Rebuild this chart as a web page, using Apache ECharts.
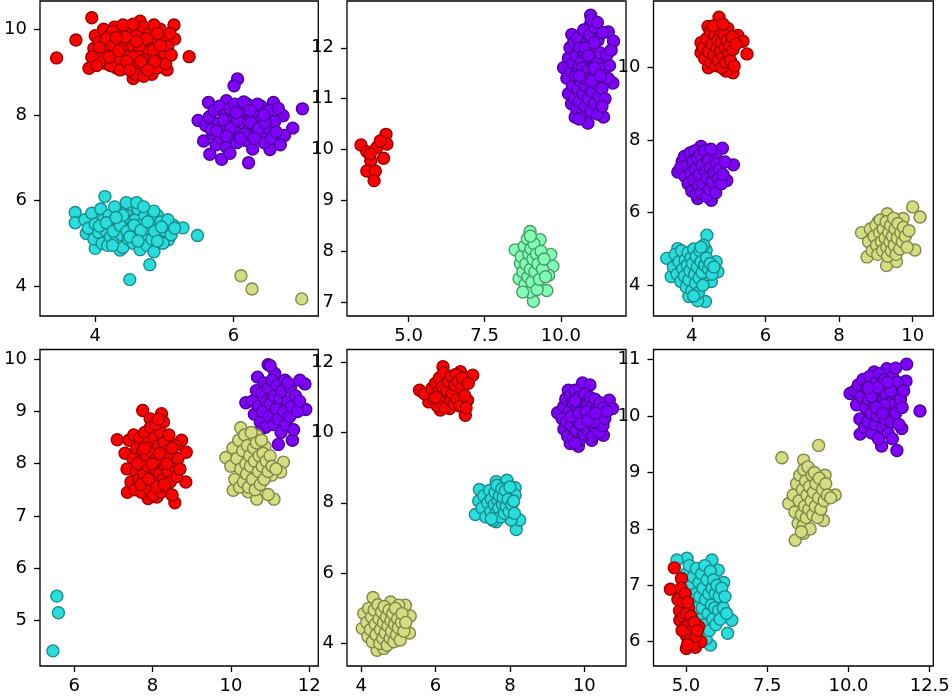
<!DOCTYPE html>
<html>
<head>
<meta charset="utf-8">
<script src="https://cdn.jsdelivr.net/npm/echarts@6/dist/echarts.min.js"></script>
<style>
html,body{margin:0;padding:0;background:#fff;}
#chart{width:952px;height:700px;}
</style>
</head>
<body>
<div id="chart"></div>
<script>
// ---- Panel 1 (top-left) ----
const p1Red = [[3.44,9.33],[3.72,9.75],[3.95,10.27],[5.14,10.10],[5.36,9.36],[3.91,9.09],[4.55,8.85],[4.82,8.95],[5.04,9.05],[4.65,10.19],[5.15,9.77],[4.94,10.0],
[3.98,9.55],[4.0,9.85],[4.05,9.7],[4.08,9.4],[4.12,10.0],[4.15,9.2],[4.18,9.6],[4.2,9.85],[4.25,9.45],[4.28,10.05],[4.3,9.1],[4.32,9.7],[4.35,9.3],[4.38,9.9],[4.4,9.55],[4.42,10.08],[4.45,9.15],[4.48,9.75],[4.5,9.4],[4.52,9.95],[4.55,9.6],[4.58,9.2],[4.6,9.85],[4.62,9.45],[4.65,9.05],[4.68,9.7],[4.7,10.05],[4.72,9.3],[4.75,9.55],[4.78,9.9],[4.8,9.15],[4.82,9.65],[4.85,9.4],[4.88,9.8],[4.9,9.1],[4.92,9.55],[4.95,9.3],[4.98,9.75],[5.0,9.45],[5.02,9.2],[5.05,9.6],[5.08,9.9],[4.1,9.25],[4.22,9.15],[4.36,9.05],[4.58,8.95],[4.4,10.1],[4.55,10.12],[4.85,10.1],[4.25,9.95],[3.95,9.35],[4.02,9.15],[4.7,8.9],
[4.06,9.58],[4.16,9.78],[4.26,9.62],[4.34,9.5],[4.44,9.82],[4.54,9.35],[4.64,9.62],[4.74,9.78],[4.84,9.52],[4.94,9.62],[4.46,9.25],[4.66,9.25],[4.86,9.25],[4.3,9.8],[4.6,9.72],[4.9,9.9],[5.1,9.4],[4.2,9.35],[4.76,9.05],[4.5,9.05]];
const p1Purple = [[6.06,8.84],[6.01,8.68],[7.0,8.14],[6.86,7.69],[6.74,7.52],[6.53,7.19],[6.22,6.88],[5.83,6.96],[5.66,7.08],[5.57,7.39],[5.49,7.87],[5.64,8.29],[6.58,8.29],[6.72,7.98],[5.9,8.33],
[5.6,7.75],[5.65,7.95],[5.7,7.55],[5.72,8.1],[5.75,7.3],[5.78,7.8],[5.8,8.2],[5.82,7.45],[5.85,7.65],[5.88,8.0],[5.9,7.25],[5.92,7.85],[5.95,8.15],[5.98,7.55],[6.0,7.75],[6.02,8.25],[6.05,7.35],[6.08,7.95],[6.1,7.6],[6.12,8.1],[6.15,7.8],[6.18,7.4],[6.2,8.25],[6.22,7.65],[6.25,7.95],[6.28,7.2],[6.3,7.75],[6.32,8.05],[6.35,7.5],[6.38,7.85],[6.4,8.2],[6.42,7.6],[6.45,7.35],[6.48,7.95],[6.5,7.7],[6.52,8.1],[6.55,7.45],[6.6,7.85],[6.62,7.6],[6.65,8.15],[6.68,7.3],[5.68,7.65],[5.95,7.1],[6.15,8.3],[6.35,8.25],
[5.86,7.88],[5.96,7.68],[6.06,7.88],[6.16,7.55],[6.26,7.82],[6.36,7.68],[6.46,7.82],[5.76,7.62],[6.04,8.05],[6.24,8.1],[6.44,8.0],[6.1,7.45],[5.9,7.5],[6.3,7.45]];
const p1Cyan = [[4.50,4.15],[4.79,4.50],[5.48,5.18],[5.27,5.36],[4.14,6.09],[3.71,5.72],[3.71,5.48],[3.87,5.23],[4.0,4.88],[4.36,4.84],[5.13,5.42],[5.06,5.08],
[3.85,5.55],[3.9,5.35],[3.95,5.7],[3.98,5.1],[4.0,5.45],[4.05,5.25],[4.08,5.8],[4.1,5.0],[4.12,5.55],[4.15,5.3],[4.18,4.95],[4.2,5.65],[4.22,5.15],[4.25,5.45],[4.28,5.85],[4.3,5.05],[4.32,5.35],[4.35,5.6],[4.38,5.2],[4.4,4.9],[4.42,5.5],[4.45,5.75],[4.48,5.1],[4.5,5.35],[4.52,5.9],[4.55,5.0],[4.58,5.55],[4.6,5.25],[4.62,5.8],[4.65,4.85],[4.68,5.45],[4.7,5.15],[4.72,5.65],[4.75,4.95],[4.78,5.35],[4.8,5.55],[4.82,5.1],[4.85,4.8],[4.88,5.4],[4.9,5.65],[4.92,5.2],[4.95,5.5],[4.98,5.0],[5.0,5.3],[5.05,5.55],[5.1,5.2],[5.15,5.35],[4.45,5.95],[4.6,5.95],[4.25,4.95],[4.85,5.75],
[4.06,5.4],[4.16,5.48],[4.26,5.28],[4.36,5.42],[4.46,5.28],[4.56,5.42],[4.66,5.3],[4.76,5.5],[4.86,5.28],[4.96,5.38],[4.4,5.65],[4.7,5.85],[4.5,5.15],[4.9,5.05],[4.3,5.6],[4.62,5.05]];
const p1Yellow = [[6.11,4.24],[6.27,3.93],[6.99,3.70]];

// ---- Panel 2 (top-middle) ----
const p2Red = [[3.44,10.09],[3.63,9.96],[3.96,10.04],[4.26,10.30],[4.29,10.11],[4.18,9.83],[3.76,9.78],[3.63,9.58],[3.91,9.58],[3.87,9.39],[4.07,10.17],[3.74,9.91]];
const p2Purple = [[10.98,12.64],[10.96,12.44],[10.36,12.26],[10.09,11.61],[11.40,10.64],[10.89,10.52],[10.47,10.64],[11.71,11.31],[11.56,12.31],[11.73,12.13],
[10.2,11.4],[10.25,11.8],[10.25,11.1],[10.3,12.0],[10.32,11.55],[10.35,10.9],[10.38,11.25],[10.4,11.7],[10.42,12.1],[10.45,11.0],[10.48,11.45],[10.5,11.85],[10.52,10.8],[10.55,12.2],[10.55,11.2],[10.58,11.6],[10.6,10.95],[10.62,12.0],[10.65,11.35],[10.68,11.75],[10.7,10.7],[10.72,11.1],[10.75,12.35],[10.75,11.5],[10.78,11.9],[10.8,10.85],[10.82,11.25],[10.85,12.1],[10.88,11.65],[10.9,11.0],[10.92,11.4],[10.95,12.25],[10.98,10.75],[11.0,11.8],[11.02,11.15],[11.05,12.0],[11.08,11.5],[11.1,10.9],[11.12,12.4],[11.15,11.3],[11.18,11.7],[11.2,10.7],[11.22,12.15],[11.25,11.05],[11.28,11.55],[11.3,11.9],[11.35,11.2],[11.38,12.3],[11.4,11.6],[11.45,11.0],[11.5,11.85],[11.55,11.4],[11.6,11.65],[11.65,11.95],[11.35,10.85],[10.6,10.6],[11.0,12.55],[11.2,12.5],
[10.7,11.6],[10.9,11.55],[11.1,11.6],[10.8,11.4],[11.0,11.35],[10.6,11.45],[10.8,12.0],[11.1,12.1],[10.9,11.85],[11.3,11.45]];
const p2Green = [[8.50,8.03],[8.99,8.39],[9.10,7.02],[9.54,7.23],[9.67,7.94],[9.74,7.71],[9.60,7.53],[8.63,7.46],[9.32,8.23],[9.16,7.76],[9.16,7.54],[9.10,7.33],[8.67,7.76],
[8.7,7.9],[8.75,7.6],[8.8,8.1],[8.82,7.35],[8.85,7.75],[8.9,8.25],[8.92,7.5],[8.95,7.95],[8.98,7.2],[9.0,7.65],[9.02,8.05],[9.05,7.4],[9.08,7.85],[9.12,8.15],[9.15,7.6],[9.2,7.95],[9.22,7.25],[9.25,7.75],[9.3,7.45],[9.35,8.0],[9.4,7.65],[9.45,7.85],[9.5,7.5],[8.75,7.2],[9.0,8.3]];

// ---- Panel 3 (top-right) ----
const p3Red = [[4.74,11.39],[5.50,10.38],[5.12,9.86],[4.93,9.91],[4.45,10.0],[4.25,10.69],[5.25,10.89],[4.44,11.14],[4.98,11.08],[5.39,10.73],[4.25,10.41],
[4.3,10.55],[4.35,10.25],[4.4,10.8],[4.45,10.45],[4.5,11.0],[4.52,10.15],[4.55,10.65],[4.6,10.35],[4.62,10.9],[4.65,10.05],[4.68,10.55],[4.7,10.75],[4.72,10.2],[4.75,11.05],[4.78,10.45],[4.8,10.7],[4.82,10.0],[4.85,10.3],[4.88,10.9],[4.9,10.55],[4.92,10.15],[4.95,10.75],[5.0,10.4],[5.02,10.6],[5.05,10.2],[5.1,10.85],[5.12,10.5],[5.15,10.05],[5.2,10.65],[4.58,11.15],[4.85,11.2]];
const p3Purple = [[4.83,7.78],[5.13,7.32],[4.95,6.89],[4.53,6.34],[4.16,6.39],[3.62,7.12],[3.74,7.41],[4.25,7.83],[4.64,7.59],[4.39,7.48],[4.32,6.91],
[3.7,7.25],[3.8,7.55],[3.82,7.0],[3.88,7.3],[3.9,6.8],[3.95,7.65],[3.98,7.1],[4.0,6.6],[4.02,7.4],[4.05,6.9],[4.08,7.7],[4.1,7.2],[4.12,6.5],[4.15,7.5],[4.18,6.75],[4.2,7.05],[4.22,7.6],[4.25,6.55],[4.28,7.3],[4.3,6.8],[4.35,7.7],[4.38,7.15],[4.4,6.45],[4.42,6.95],[4.45,7.45],[4.48,6.65],[4.5,7.25],[4.52,7.75],[4.55,6.85],[4.6,7.1],[4.65,6.55],[4.68,7.35],[4.72,6.95],[4.75,7.2],[4.8,6.8],[4.85,7.05],[4.9,7.4]];
const p3Cyan = [[3.32,4.74],[4.41,5.38],[4.37,3.55],[4.16,3.57],[3.92,3.69],[4.71,4.37],[4.66,4.65],[3.44,4.24],[3.76,4.79],[3.62,5.01],[4.39,4.97],[4.53,4.10],[4.39,4.28],
[3.5,4.5],[3.55,4.85],[3.6,4.3],[3.65,4.65],[3.7,4.1],[3.72,4.95],[3.75,4.45],[3.8,4.25],[3.82,4.7],[3.85,3.95],[3.88,4.55],[3.9,4.9],[3.92,4.15],[3.95,4.4],[3.98,4.75],[4.0,3.85],[4.02,4.6],[4.05,5.0],[4.08,4.3],[4.1,4.05],[4.12,4.8],[4.15,4.5],[4.18,3.8],[4.2,4.2],[4.22,4.95],[4.25,4.65],[4.28,4.35],[4.3,4.0],[4.32,5.1],[4.35,4.55],[4.4,4.75],[4.45,4.45],[4.5,4.6],[4.55,4.3],[4.6,4.5],[4.25,5.05],[4.05,3.7]];
const p3Yellow = [[10.0,6.16],[10.2,5.88],[10.06,4.97],[9.29,4.54],[8.76,4.78],[8.61,5.45],[9.06,5.75],[9.31,5.97],[9.74,5.84],[9.56,4.65],
[8.8,5.2],[8.85,5.55],[8.9,4.95],[8.95,5.35],[9.0,5.65],[9.02,5.1],[9.05,4.85],[9.1,5.45],[9.12,5.8],[9.15,5.2],[9.18,4.95],[9.2,5.55],[9.25,5.3],[9.28,5.75],[9.3,5.05],[9.32,4.8],[9.35,5.45],[9.38,5.2],[9.4,5.65],[9.42,4.95],[9.45,5.35],[9.48,5.85],[9.5,5.1],[9.52,5.55],[9.55,4.85],[9.58,5.3],[9.6,5.7],[9.65,5.0],[9.68,5.45],[9.72,5.2],[9.75,5.6],[9.8,5.35],[9.85,5.05],[9.9,5.5]];

// ---- Panel 4 (bottom-left) ----
const p4Red = [[7.75,9.02],[8.23,8.96],[8.57,7.25],[8.85,7.65],[8.86,8.22],[7.10,8.46],[7.36,7.45],[7.89,7.33],[8.28,8.80],[7.94,8.86],[8.74,8.45],[8.11,7.36],
[7.3,8.2],[7.35,7.9],[7.4,8.45],[7.45,7.65],[7.5,8.1],[7.52,8.55],[7.55,7.5],[7.58,7.85],[7.6,8.3],[7.65,7.7],[7.68,8.5],[7.7,8.05],[7.72,7.45],[7.75,8.25],[7.78,7.8],[7.8,8.6],[7.82,7.6],[7.85,8.15],[7.88,7.95],[7.9,8.4],[7.92,7.5],[7.95,8.7],[7.98,7.75],[8.0,8.2],[8.02,7.4],[8.05,8.5],[8.08,7.9],[8.1,8.1],[8.12,7.6],[8.15,8.35],[8.18,7.8],[8.2,8.6],[8.22,7.45],[8.25,8.05],[8.28,7.7],[8.3,8.4],[8.32,7.95],[8.35,7.55],[8.38,8.25],[8.4,7.85],[8.42,8.55],[8.45,7.65],[8.48,8.15],[8.5,7.4],[8.55,7.95],[8.58,8.35],[8.62,7.75],[8.65,8.1],[8.7,7.9],[8.08,8.75],[8.15,8.85],
[7.62,8.0],[7.8,8.3],[7.98,8.0],[8.18,8.2],[8.36,8.0],[7.7,7.6],[7.9,7.7],[8.1,7.55],[8.3,7.6],[8.5,8.3]];
const p4Purple = [[10.95,9.90],[10.68,9.66],[10.38,9.17],[11.91,9.04],[11.89,9.53],[11.57,8.45],[11.21,8.37],[11.76,9.60],[11.12,9.73],[11.0,9.88],
[10.55,9.2],[10.6,8.95],[10.65,9.4],[10.7,9.1],[10.75,8.8],[10.78,9.35],[10.8,9.0],[10.85,9.55],[10.88,8.7],[10.9,9.2],[10.95,9.45],[10.98,8.9],[11.0,9.15],[11.05,9.6],[11.08,8.75],[11.1,9.3],[11.15,9.05],[11.18,9.5],[11.2,8.85],[11.25,9.25],[11.28,8.6],[11.3,9.4],[11.35,9.0],[11.38,9.6],[11.4,8.75],[11.45,9.2],[11.5,8.9],[11.52,9.45],[11.55,9.1],[11.6,8.65],[11.65,9.3],[11.7,9.0],[11.75,9.2],[11.45,9.55],[10.7,8.6]];
const p4Yellow = [[10.25,8.69],[9.87,8.12],[10.06,7.49],[10.44,7.46],[10.66,7.32],[11.10,7.32],[10.95,7.41],[11.34,8.03],[11.27,7.84],[10.66,8.54],[10.87,8.33],[11.04,7.78],[10.61,7.68],
[10.0,7.95],[10.05,8.3],[10.1,7.7],[10.15,8.1],[10.2,8.45],[10.22,7.55],[10.25,7.9],[10.3,8.25],[10.32,7.65],[10.35,8.55],[10.38,8.0],[10.4,7.8],[10.42,8.35],[10.45,7.55],[10.48,8.15],[10.5,7.95],[10.52,8.6],[10.55,7.7],[10.58,8.3],[10.6,8.05],[10.62,7.5],[10.65,8.4],[10.7,7.85],[10.72,8.15],[10.75,7.6],[10.78,8.45],[10.8,7.95],[10.82,8.2],[10.85,7.7],[10.9,8.05],[10.95,7.85],[11.0,8.15],[11.05,7.95],[11.15,7.9]];
const p4Cyan = [[5.56,5.46],[5.60,5.14],[5.46,4.41]];

// ---- Panel 5 (bottom-middle) ----
const p5Red = [[6.20,11.87],[5.57,11.20],[6.80,10.49],[7.0,11.63],[6.13,10.64],[5.82,10.87],[6.86,10.92],[6.38,10.68],[6.26,11.01],[6.62,11.11],[6.67,11.73],[6.31,11.54],
[5.7,11.1],[5.9,11.25],[5.95,10.95],[6.0,11.4],[6.05,10.75],[6.08,11.15],[6.1,11.55],[6.15,10.85],[6.18,11.3],[6.22,11.7],[6.25,10.7],[6.3,11.2],[6.35,11.45],[6.4,10.9],[6.42,11.6],[6.45,11.1],[6.5,10.8],[6.52,11.35],[6.55,11.65],[6.58,10.95],[6.6,11.45],[6.65,10.75],[6.7,11.25],[6.72,11.55],[6.78,11.05],[6.82,10.7],[6.88,11.4],[6.0,11.0]];
const p5Purple = [[9.95,11.41],[9.28,10.56],[9.84,9.61],[9.62,9.69],[10.67,10.92],[10.76,10.68],[10.20,9.78],[10.51,9.92],[9.57,11.20],[10.15,11.35],
[9.4,10.4],[9.45,10.75],[9.45,10.1],[9.5,10.95],[9.52,10.3],[9.55,9.9],[9.6,10.6],[9.62,11.05],[9.65,10.2],[9.68,10.85],[9.7,9.85],[9.72,10.45],[9.75,11.2],[9.78,10.05],[9.8,10.7],[9.82,10.3],[9.85,11.0],[9.88,9.8],[9.9,10.5],[9.92,10.9],[9.95,10.15],[9.98,10.65],[10.0,9.95],[10.02,11.1],[10.05,10.4],[10.08,10.8],[10.1,10.05],[10.12,10.6],[10.15,11.0],[10.18,10.25],[10.2,10.75],[10.22,9.9],[10.25,10.5],[10.28,10.95],[10.3,10.15],[10.35,10.7],[10.38,10.35],[10.4,10.0],[10.42,10.85],[10.45,10.5],[10.5,10.2],[10.52,10.7],[10.55,10.4],[10.6,10.6],[9.75,9.7],
[9.65,10.45],[9.85,10.55],[10.05,10.6],[10.25,10.3],[9.9,10.25],[10.1,10.35],[9.75,10.9],[10.3,10.55]];
const p5Cyan = [[7.18,8.38],[7.63,8.60],[8.17,7.24],[8.26,7.51],[7.07,7.67],[7.16,8.05],[8.14,8.43],[8.14,8.22],[7.92,8.64],[7.63,7.46],[8.03,7.51],
[7.25,7.85],[7.3,8.2],[7.35,7.6],[7.4,8.0],[7.45,8.35],[7.48,7.75],[7.5,8.1],[7.55,7.5],[7.58,7.95],[7.6,8.3],[7.62,7.7],[7.65,8.5],[7.68,8.05],[7.7,7.85],[7.72,8.2],[7.75,7.6],[7.78,8.4],[7.8,7.95],[7.82,8.15],[7.85,7.7],[7.88,8.35],[7.9,7.9],[7.95,8.1],[7.98,7.75],[8.0,8.45],[8.05,7.95],[8.1,8.05],[8.12,7.7],[7.5,7.55]];
const p5Yellow = [[4.32,5.31],[4.43,3.81],[4.61,3.86],[5.30,4.30],[5.32,4.78],[5.19,5.09],[4.03,4.43],[4.07,4.85],[4.79,5.18],[5.01,5.09],
[4.15,4.6],[4.18,4.2],[4.2,5.0],[4.25,4.4],[4.28,4.75],[4.3,4.05],[4.35,4.95],[4.38,4.55],[4.4,4.25],[4.45,5.1],[4.48,4.7],[4.5,4.0],[4.52,4.4],[4.55,4.9],[4.58,4.15],[4.6,4.6],[4.62,5.05],[4.65,4.3],[4.68,4.75],[4.7,3.95],[4.72,4.5],[4.75,4.95],[4.78,4.15],[4.8,4.65],[4.82,4.35],[4.85,4.85],[4.88,4.05],[4.9,4.55],[4.92,5.0],[4.95,4.25],[4.98,4.7],[5.0,4.45],[5.05,4.1],[5.08,4.6],[5.1,4.85],[5.15,4.35],[5.2,4.6]];

// ---- Panel 6 (bottom-right) ----
const p6Red = [[4.64,7.31],[4.52,6.93],[4.86,7.12],[5.01,5.88],[5.29,5.90],[5.46,6.0],[5.39,6.27],[5.08,6.38],[4.83,6.77],[4.81,6.38],[5.08,6.59],[5.18,6.15],
[4.75,6.75],[4.8,6.55],[4.85,6.95],[4.9,6.45],[4.92,6.7],[4.95,6.25],[4.98,6.85],[5.0,6.5],[5.02,6.1],[5.05,6.7],[5.1,6.3],[5.12,6.05],[5.15,6.45],[5.2,6.2],[5.22,5.95],[5.25,6.35],[5.3,6.1],[5.35,6.2],[4.88,6.2],[5.05,5.95]];
const p6Cyan = [[5.03,7.48],[5.80,7.45],[5.75,5.94],[6.28,6.15],[6.41,6.38],[6.16,7.05],[5.34,7.27],[5.99,7.27],[4.72,7.45],
[5.0,7.2],[5.05,6.9],[5.1,7.35],[5.15,7.0],[5.2,6.7],[5.22,7.15],[5.25,6.45],[5.3,6.85],[5.32,7.3],[5.35,6.6],[5.38,6.2],[5.4,7.05],[5.42,6.8],[5.45,6.4],[5.48,7.2],[5.5,6.6],[5.52,6.95],[5.55,6.3],[5.58,7.35],[5.6,6.75],[5.62,6.05],[5.65,7.1],[5.68,6.5],[5.7,6.85],[5.72,6.2],[5.75,7.25],[5.78,6.65],[5.8,6.95],[5.82,6.4],[5.85,7.1],[5.88,6.6],[5.9,6.85],[5.92,6.3],[5.95,7.0],[6.0,6.55],[6.02,6.8],[6.05,6.4],[6.1,6.95],[6.15,6.6],[6.2,6.8],[6.25,6.5]];
const p6Yellow = [[7.95,9.26],[9.08,9.48],[8.36,7.80],[8.62,7.92],[9.59,8.60],[9.28,8.95],[8.62,9.22],[8.16,8.45],[9.23,8.15],
[8.3,8.6],[8.35,8.3],[8.4,8.8],[8.45,8.1],[8.48,8.5],[8.5,8.95],[8.55,8.25],[8.58,8.7],[8.6,8.05],[8.62,9.05],[8.65,8.4],[8.68,8.85],[8.7,8.2],[8.72,8.6],[8.75,9.1],[8.78,8.35],[8.8,8.75],[8.82,8.0],[8.85,8.5],[8.88,8.95],[8.9,8.25],[8.92,8.65],[8.95,9.0],[8.98,8.4],[9.0,8.8],[9.05,8.2],[9.08,8.55],[9.1,8.9],[9.15,8.35],[9.2,8.7],[9.25,8.5],[9.3,8.8],[9.35,8.6],[9.45,8.55],[8.55,7.95]];
const p6Purple = [[11.79,10.92],[12.20,10.09],[11.49,9.39],[11.02,9.47],[10.36,9.68],[10.05,10.40],[10.79,10.78],[11.18,10.84],[11.77,10.62],[11.64,9.78],
[10.2,10.45],[10.25,10.2],[10.3,10.55],[10.35,9.95],[10.4,10.35],[10.45,10.65],[10.5,9.8],[10.52,10.15],[10.55,10.5],[10.6,9.9],[10.62,10.3],[10.65,10.7],[10.7,10.05],[10.72,9.7],[10.75,10.45],[10.8,10.2],[10.82,9.85],[10.85,10.6],[10.88,10.0],[10.9,10.35],[10.92,9.6],[10.95,10.75],[10.98,10.15],[11.0,10.5],[11.05,9.8],[11.08,10.3],[11.1,10.65],[11.12,9.95],[11.15,10.4],[11.2,10.1],[11.22,9.7],[11.25,10.55],[11.3,10.25],[11.32,9.9],[11.35,10.7],[11.4,10.4],[11.45,10.05],[11.5,10.6],[11.55,9.85],[11.6,10.3],[11.65,10.15],[11.7,10.45],[11.35,9.6],[11.45,10.85],
[10.7,10.35],[10.9,10.5],[11.1,10.2],[11.3,10.45],[10.85,10.15],[11.05,10.05],[10.6,10.5],[11.2,10.6]];

// ---- Axis ranges and tick values/labels ----
const xRanges = [[3.20,7.23],[2.98,12.14],[2.96,10.56],[5.13,12.23],[3.62,11.12],[4.00,12.61]];
const yRanges = [[3.30,10.66],[6.73,12.92],[3.15,11.84],[4.12,10.19],[3.36,12.36],[5.57,11.18]];
const xTicks = [[4,6],[5,7.5,10],[4,6,8,10],[6,8,10,12],[4,6,8,10],[5,7.5,10,12.5]];
const xTickLabels = [['4','6'],['5.0','7.5','10.0'],['4','6','8','10'],['6','8','10','12'],['4','6','8','10'],['5.0','7.5','10.0','12.5']];
const yTicks = [[4,6,8,10],[7,8,9,10,11,12],[4,6,8,10],[5,6,7,8,9,10],[4,6,8,10,12],[6,7,8,9,10,11]];
const yTickLabels = [['4','6','8','10'],['7','8','9','10','11','12'],['4','6','8','10'],['5','6','7','8','9','10'],['4','6','8','10','12'],['6','7','8','9','10','11']];

// ---- Colours (rainbow colormap) ----
const colors = {
  purple: ['#8000ff', '#4d0099'],
  cyan:   ['#2adddd', '#1a8a8a'],
  green:  ['#80ffb4', '#4d996c'],
  yellow: ['#d4dd80', '#7f854d'],
  red:    ['#ff0000', '#990000']
};

const panels = [
  [['purple',p1Purple],['cyan',p1Cyan],['yellow',p1Yellow],['red',p1Red]],
  [['purple',p2Purple],['green',p2Green],['red',p2Red]],
  [['purple',p3Purple],['cyan',p3Cyan],['yellow',p3Yellow],['red',p3Red]],
  [['purple',p4Purple],['cyan',p4Cyan],['yellow',p4Yellow],['red',p4Red]],
  [['purple',p5Purple],['cyan',p5Cyan],['yellow',p5Yellow],['red',p5Red]],
  [['purple',p6Purple],['cyan',p6Cyan],['yellow',p6Yellow],['red',p6Red]]
];

const gridLefts = [40, 347, 653.5];
const gridWidths = [278.3, 279, 279.8];
const gridTops = [1, 349.5];
const gridHeights = [315, 316.5];

const FONT = 'DejaVu Sans';
const grids = [], xAxes = [], yAxes = [], series = [];
for (let i = 0; i < 6; i++) {
  const col = i % 3, row = Math.floor(i / 3);
  grids.push({
    left: gridLefts[col], top: gridTops[row], width: gridWidths[col], height: gridHeights[row],
    show: true, borderColor: '#000', borderWidth: 1.3, backgroundColor: 'transparent',
    outerBoundsMode: 'none', containLabel: false
  });
  const xt = xTicks[i], xl = xTickLabels[i], yt = yTicks[i], yl = yTickLabels[i];
  xAxes.push({
    type: 'value', gridIndex: i, min: xRanges[i][0], max: xRanges[i][1],
    splitLine: {show: false}, axisLine: {show: false},
    axisTick: {show: true, inside: false, length: 6, lineStyle: {color: '#000', width: 1.3}, customValues: xt},
    axisLabel: {show: true, customValues: xt, margin: 11, color: '#000', fontFamily: FONT, fontSize: 18,
      formatter: v => { const k = xt.findIndex(t => Math.abs(t - v) < 1e-9); return k >= 0 ? xl[k] : ''; }}
  });
  yAxes.push({
    type: 'value', gridIndex: i, min: yRanges[i][0], max: yRanges[i][1],
    splitLine: {show: false}, axisLine: {show: false},
    axisTick: {show: true, inside: false, length: 6, lineStyle: {color: '#000', width: 1.3}, customValues: yt},
    axisLabel: {show: true, customValues: yt, margin: 13, color: '#000', fontFamily: FONT, fontSize: 18,
      formatter: v => { const k = yt.findIndex(t => Math.abs(t - v) < 1e-9); return k >= 0 ? yl[k] : ''; }}
  });
  panels[i].forEach(([cname, data]) => {
    series.push({
      type: 'scatter', xAxisIndex: i, yAxisIndex: i, data: data,
      symbol: 'circle', symbolSize: 12, clip: true, silent: true,
      itemStyle: {color: colors[cname][0], borderColor: colors[cname][1], borderWidth: 1.4, opacity: 1}
    });
  });
}

const chart = echarts.init(document.getElementById('chart'), null, {renderer: 'canvas'});
chart.setOption({
  animation: false,
  backgroundColor: '#fff',
  grid: grids, xAxis: xAxes, yAxis: yAxes, series: series
});
</script>
</body>
</html>
